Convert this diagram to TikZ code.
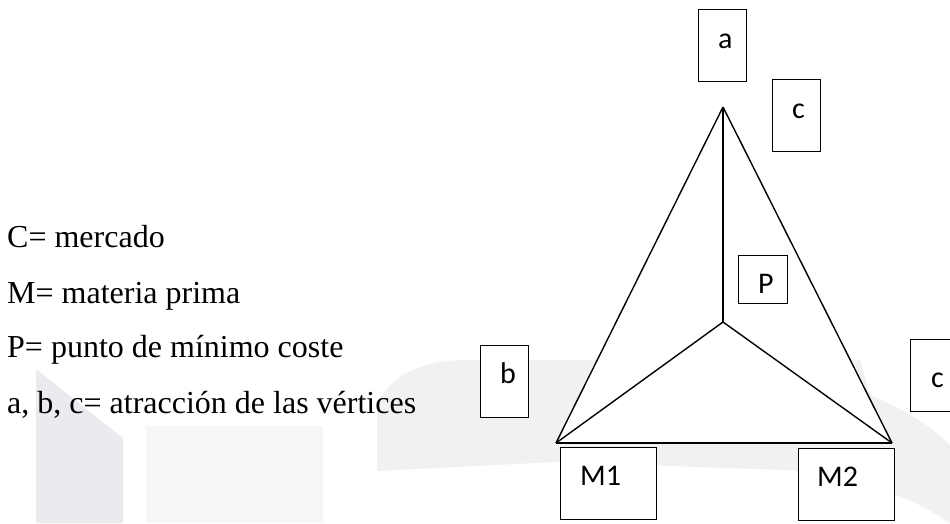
\documentclass[tikz,border=0pt]{standalone}
\usepackage{fontspec}
\setmainfont{Liberation Serif}
\newfontfamily\boxfont{Carlito}
\definecolor{wmdark}{RGB}{234,234,239}
\definecolor{wmlight}{RGB}{246,246,248}
\definecolor{wmmid}{RGB}{241,241,244}
\tikzset{
  labelbox/.style={draw=black, line width=1.3pt, fill=white, anchor=north west, inner sep=0pt},
  boxlabel/.style={anchor=base west, inner sep=0pt, font=\boxfont\fontsize{30}{32}\selectfont},
  legend/.style={anchor=base west, inner sep=0pt, font=\fontsize{32}{35}\selectfont},
  edge/.style={draw=black, line width=1.4pt, line join=round}
}
\begin{document}
\begin{tikzpicture}[x=1pt,y=-1pt]
\useasboundingbox (0,0) rectangle (950,523);
% faint watermark
\fill[wmdark] (36,369) -- (123,438) -- (123,523) -- (36,523) -- cycle;
\fill[wmlight] (146,426) -- (323,426) -- (323,523) -- (146,523) -- cycle;
\fill[wmmid] (377,471) -- (377,405) .. controls (390,375) and (420,362) .. (460,360)
  -- (860,360) -- (870,395) .. controls (905,410) and (930,425) .. (950,445)
  -- (950,523) .. controls (900,490) and (840,472) .. (783,470) -- (556,462) -- cycle;
% vertices
\coordinate (A) at (723,107);
\coordinate (L) at (556,443);
\coordinate (R) at (892,443);
\coordinate (P) at (723,322);
\fill[white] (A) -- (L) -- (R) -- cycle;
% legend
\node[legend] (l1) at (7,247) {C= mercado};
\node[legend] (l2) at (7,303) {M= materia prima};
\node[legend] (l3) at (7,357) {P= punto de mínimo coste};
\node[legend] (l4) at (7,413) {a, b, c= atracción de las vértices};
% triangle
\draw[edge] (A) -- (L);
\draw[edge] (A) -- (R);
\draw[edge] (L) -- (R);
\draw[edge] (A) -- (P);
\draw[edge] (P) -- (L);
\draw[edge] (P) -- (R);
% boxes
\node[labelbox, minimum width=48pt, minimum height=72pt] (ba) at (698,9) {};
\node[labelbox, minimum width=48pt, minimum height=72pt] (bc1) at (772,79) {};
\node[labelbox, minimum width=49pt, minimum height=48pt] (bp) at (738,255) {};
\node[labelbox, minimum width=48pt, minimum height=72pt] (bb) at (480,345) {};
\node[labelbox, minimum width=48pt, minimum height=72pt] (bc2) at (910,339) {};
\node[labelbox, minimum width=96pt, minimum height=72pt] (bm1) at (560,447) {};
\node[labelbox, minimum width=96pt, minimum height=72pt] (bm2) at (798,448) {};
% labels
\node[boxlabel] (ta) at (718,48) {a};
\node[boxlabel] (tc1) at (792,118) {c};
\node[boxlabel] (tp) at (758,293) {P};
\node[boxlabel] (tb) at (500,383) {b};
\node[boxlabel] (tc2) at (931,387) {c};
\node[boxlabel] (tm1) at (580,485) {M1};
\node[boxlabel] (tm2) at (817,486) {M2};
\end{tikzpicture}
\end{document}
